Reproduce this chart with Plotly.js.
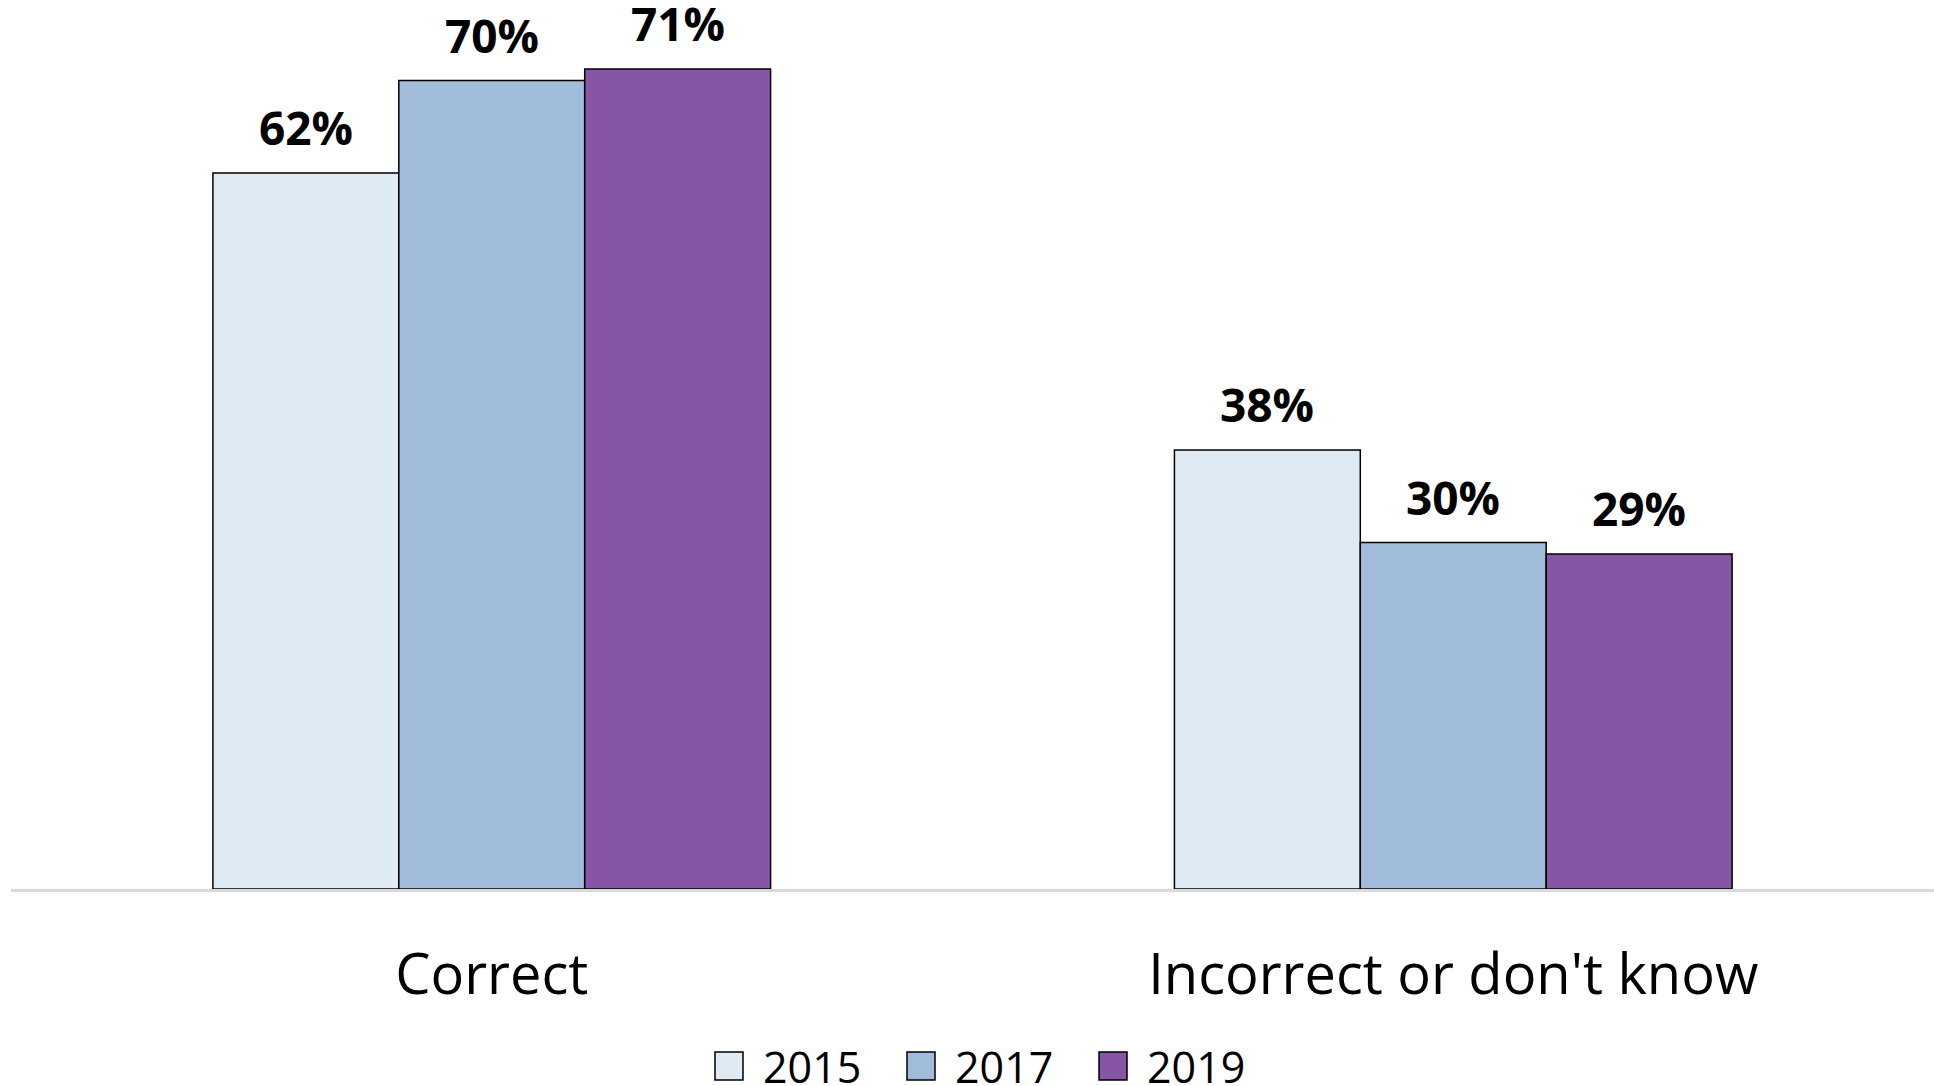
<!DOCTYPE html>
<html>
<head>
<meta charset="utf-8">
<script src="https://cdn.plot.ly/plotly-3.0.1.min.js"></script>
<style>
  html, body { margin: 0; padding: 0; background: #ffffff; }
  #chart { width: 1934px; height: 1086px; }
</style>
</head>
<body>
<div id="chart"></div>
<script>
// ---- Data ----
const categories = ["Correct", "Incorrect or don't know"];
const years = ["2015", "2017", "2019"];
const values2015 = [62, 38];
const values2017 = [70, 30];
const values2019 = [71, 29];
const seriesValues = [values2015, values2017, values2019];
const seriesColors = ["#deebf4", "#a0bcda", "#8755a5"];

// ---- Layout constants ----
const W = 1934, H = 1086;
const M = { l: 11, r: 0, t: 0, b: 197 };
const plotW = W - M.l - M.r;
const plotH = H - M.t - M.b;
const bargap = 0.42;
const FONT = "Open Sans, Noto Sans, sans-serif";

const traces = years.map((yr, j) => ({
  type: "bar",
  name: yr,
  x: categories,
  y: seriesValues[j],
  marker: { color: seriesColors[j], line: { color: "#000000", width: 1.5 } },
  hoverinfo: "x+y+name",
  showlegend: false
}));

// value labels positioned by data coordinates
const groupW = 1 - bargap;
const barW = groupW / years.length;
const annotations = [];
years.forEach((yr, j) => {
  categories.forEach((c, i) => {
    annotations.push({
      xref: "x", yref: "y",
      x: i + (j - (years.length - 1) / 2) * barW,
      y: seriesValues[j][i],
      text: seriesValues[j][i] + "%",
      showarrow: false,
      xanchor: "center", yanchor: "bottom",
      yshift: 13,
      font: { family: FONT, size: 46, color: "#000000", weight: "bold" }
    });
  });
});

// manual legend (larger swatches than Plotly's native legend)
const shapes = [];
const legStartPx = 715, legPitch = 192, sw = 28, legCenterY = 1066, textOff = 46;
const px2x = px => (px - M.l) / plotW;
const py2y = py => (plotH - (py - M.t)) / plotH;
years.forEach((yr, j) => {
  const left = legStartPx + j * legPitch;
  shapes.push({
    type: "rect", xref: "paper", yref: "paper",
    x0: px2x(left), x1: px2x(left + sw),
    y0: py2y(legCenterY + sw / 2), y1: py2y(legCenterY - sw / 2),
    fillcolor: seriesColors[j], line: { color: "#000000", width: 1.5 }
  });
  annotations.push({
    xref: "paper", yref: "paper",
    x: px2x(left + textOff), y: py2y(legCenterY),
    text: yr, showarrow: false,
    xanchor: "left", yanchor: "middle",
    font: { family: FONT, size: 43, color: "#000000" }
  });
});

const layout = {
  width: W, height: H,
  margin: M,
  paper_bgcolor: "#ffffff",
  plot_bgcolor: "#ffffff",
  barmode: "group",
  bargap: bargap,
  bargroupgap: 0,
  showlegend: false,
  font: { family: FONT, color: "#000000" },
  xaxis: {
    type: "category",
    showline: true, linecolor: "#d9d9d9", linewidth: 3,
    showgrid: false, zeroline: false,
    ticks: "outside", ticklen: 35, tickcolor: "rgba(0,0,0,0)",
    tickfont: { family: FONT, size: 56, color: "#000000" }
  },
  yaxis: {
    range: [0, plotH / 11.55],
    visible: false, showgrid: false, zeroline: false, fixedrange: true
  },
  annotations: annotations,
  shapes: shapes
};

Plotly.newPlot("chart", traces, layout, { displayModeBar: false, staticPlot: true });
</script>
</body>
</html>
